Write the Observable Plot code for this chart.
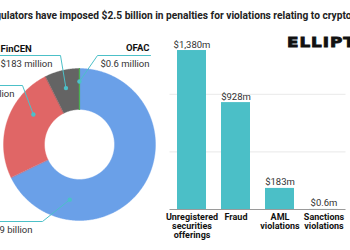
<!DOCTYPE html>
<html>
<head>
<meta charset="utf-8">
<script src="https://cdn.jsdelivr.net/npm/d3@7"></script>
<script src="https://cdn.jsdelivr.net/npm/@observablehq/plot@0.6"></script>
<style>
  body { margin: 0; background: #fff; }
  #root { position: relative; width: 350px; height: 250px; overflow: hidden; font-family: Roboto, sans-serif; background: #fff; }
  #title { position: absolute; left: -29.5px; top: 10px; white-space: nowrap; font-weight: 700; font-size: 10.2px; color: #222; line-height: 12px; }
  #logo { position: absolute; left: 287px; top: 34.5px; white-space: nowrap; font-family: "DejaVu Sans", sans-serif; font-weight: 700; font-size: 14px; line-height: 14px; letter-spacing: 0.8px; color: #111; -webkit-text-stroke: 0.8px #111; transform: scaleX(1.2); transform-origin: 0 0; }
  .chart { position: absolute; top: 0; }
</style>
</head>
<body>
<div id="root">
  <div id="title"></div>
  <div id="logo">ELLIPTIC</div>
</div>
<script>
// ---- Data ----
const titleText = "US regulators have imposed $2.5 billion in penalties for violations relating to crypto";

const agencies = ["SEC", "CFTC", "FinCEN", "OFAC"];
const agencyPenalties = [1690, 618, 183, 0.6]; // $ millions
const agencyValueLabels = ["$1.69 billion", "$618 million", "$183 million", "$0.6 million"];
const agencyColors = ["#6aa0e8", "#e06666", "#646464", "#4caf50"];

const categories = ["Unregistered\nsecurities\nofferings", "Fraud", "AML\nviolations", "Sanctions\nviolations"];
const penalties = [1380, 928, 183, 0.6]; // $ millions
const penaltyLabels = ["$1,380m", "$928m", "$183m", "$0.6m"];

// ---- Title ----
document.getElementById("title").textContent = titleText;

// ---- Donut ----
const R = 76, r0 = 35;
const slices = agencies.map((a, i) => ({agency: a, value: agencyPenalties[i], color: agencyColors[i], label: agencyValueLabels[i]}));
const arcs = d3.pie().sort(null).value(d => d.value)(slices);
const deg = Math.PI / 180;
const polar = (a, rad) => ({x: rad * Math.sin(a), y: rad * Math.cos(a)});
function arcPolygon(arc) {
  const n = Math.max(2, Math.ceil((arc.endAngle - arc.startAngle) / (0.5 * deg)));
  const pts = [];
  for (let k = 0; k <= n; k++) pts.push(polar(arc.startAngle + (arc.endAngle - arc.startAngle) * k / n, R));
  for (let k = n; k >= 0; k--) pts.push(polar(arc.startAngle + (arc.endAngle - arc.startAngle) * k / n, r0));
  return pts.map(p => ({...p, agency: arc.data.agency}));
}

// annotation layout (label anchor geometry, relative to donut centre)
const labelLayout = [
  {agency: "SEC",    dotAngle: 190, dotR: 56, elbow: [-37, -77], lineEnd: -84, textX: -98.5, nameY: -69, valueY: -85, anchor: "start"},
  {agency: "CFTC",   dotAngle: 303, dotR: 55, elbow: [-57, 59],  lineEnd: -84, textX: -117,  nameY: 67,  valueY: 51,  anchor: "start"},
  {agency: "FinCEN", dotAngle: 346.5, dotR: 58, elbow: [-19, 89], lineEnd: -84, textX: -79,  nameY: 96,  valueY: 81,  anchor: "start"},
  {agency: "OFAC",   dotAngle: 359.95, dotR: 63, elbow: [18, 89],  lineEnd: 71, textX: 70,     nameY: 97,  valueY: 81,  anchor: "end"}
];
const teal = "#4cc0c8";
const leaderPts = [], dots = [], names = [], values = [];
labelLayout.forEach(L => {
  const s = slices.find(d => d.agency === L.agency);
  const d = polar(L.dotAngle * deg, L.dotR);
  leaderPts.push({x: L.lineEnd, y: L.elbow[1], agency: L.agency});
  leaderPts.push({x: L.elbow[0], y: L.elbow[1], agency: L.agency});
  leaderPts.push({x: d.x, y: d.y, agency: L.agency});
  dots.push(d);
  names.push({x: L.textX, y: L.nameY, text: s.agency, anchor: L.anchor});
  values.push({x: L.textX, y: L.valueY, text: s.label, anchor: L.anchor});
});

const donutMarks = arcs.map(a => Plot.line(arcPolygon(a), {
  x: "x", y: "y", curve: "linear-closed",
  fill: a.data.color, stroke: a.data.color, strokeWidth: a.data.agency === "OFAC" ? 1.2 : 0.4
}));

const donut = Plot.plot({
  width: 175, height: 250, margin: 0,
  x: {domain: [-79, 96], axis: null},
  y: {domain: [-106, 144], axis: null},
  style: {background: "transparent", overflow: "visible", fontFamily: "Roboto, sans-serif"},
  marks: [
    ...donutMarks,
    Plot.line(leaderPts, {x: "x", y: "y", z: "agency", stroke: teal, strokeWidth: 1}),
    Plot.dot(dots, {x: "x", y: "y", r: 2.2, fill: teal}),
    ...["start", "end"].map(an => Plot.text(names.filter(d => d.anchor === an), {x: "x", y: "y", text: "text", textAnchor: an, fontWeight: 700, fontSize: 9.5, fill: "#111"})),
    ...["start", "end"].map(an => Plot.text(values.filter(d => d.anchor === an), {x: "x", y: "y", text: "text", textAnchor: an, fontSize: 9.5, fill: "#333"}))
  ]
});
donut.classList.add("chart");
donut.style.left = "0px";

// ---- Bars ----
const bars = categories.map((c, i) => ({category: c, value: penalties[i], label: penaltyLabels[i]}));
const barChart = Plot.plot({
  width: 190, height: 250,
  marginLeft: 9.5, marginRight: 4.5, marginTop: 36.2, marginBottom: 41,
  x: {domain: categories, paddingInner: 0.34, paddingOuter: 0.17, axis: null},
  y: {domain: [0, 1500], axis: null},
  style: {background: "transparent", overflow: "visible", fontFamily: "Roboto, sans-serif"},
  marks: [
    Plot.ruleY([500, 1000], {stroke: "#e9e9e9", strokeWidth: 1}),
    Plot.barY(bars, {x: "category", y: "value", fill: "#4bbfc7"}),
    Plot.ruleY([0], {stroke: "#9a9a9a", strokeWidth: 1}),
    Plot.text(bars, {x: "category", y: "value", text: "label", dy: -6, fontSize: 9.5, fill: "#333"}),
    Plot.text(bars, {x: "category", y: () => 0, text: "category", lineAnchor: "top", dy: 3.5, fontSize: 9, fontWeight: 700, lineHeight: 1.03, fill: "#111"})
  ]
});
barChart.classList.add("chart");
barChart.style.left = "160px";

const root = document.getElementById("root");
root.appendChild(donut);
root.appendChild(barChart);
</script>
</body>
</html>
